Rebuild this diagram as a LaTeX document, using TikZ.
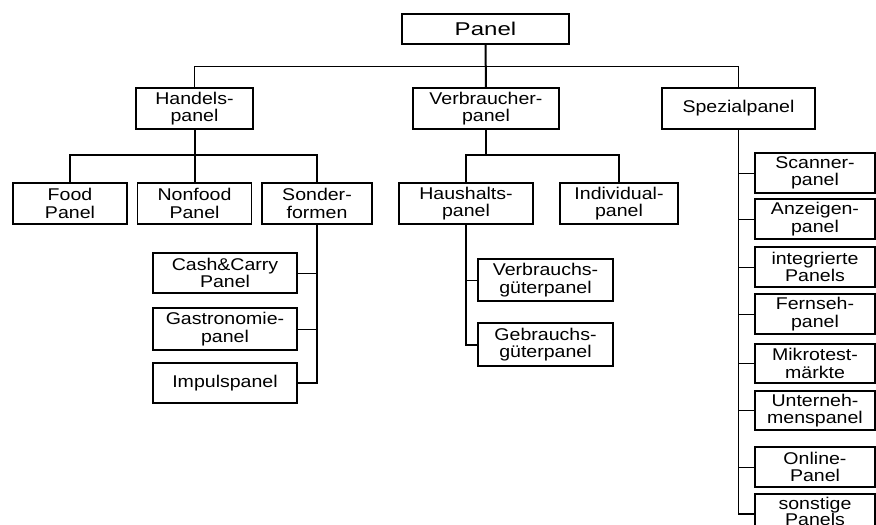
\documentclass[tikz,border=0pt]{standalone}
\usepackage{fontspec}
\setmainfont{Liberation Sans}
\newfontfamily\boxfont[FakeStretch=1.15]{Liberation Sans}
\newfontfamily\topfont[FakeStretch=1.3]{Liberation Sans}
\begin{document}
\begin{tikzpicture}[x=1pt,y=-1pt,
  box/.style={draw,line width=1.2pt,align=center,inner sep=0pt,
    font=\boxfont\fontsize{17}{17.5}\selectfont},
  boxtext/.style={align=center,inner sep=0pt,
    font=\boxfont\fontsize{17}{16}\selectfont},
  thin/.style={line width=1pt},
  thickc/.style={line width=2pt},
  midc/.style={line width=1.4pt}]
\fill[white] (0,0) rectangle (876,525);
\useasboundingbox (0,0) rectangle (876,525);
% level 0
\node[box,minimum width=167pt,minimum height=30pt,font=\topfont\fontsize{18.5}{20}\selectfont] (panel) at (485.5,29) {Panel};
% level 1
\node[box,minimum width=117pt,minimum height=41pt] (handels) at (194.5,108.5) {Handels-\\panel};
\node[box,minimum width=146pt,minimum height=41pt] (verbr) at (486,108.5) {Verbraucher-\\panel};
\node[box,minimum width=153pt,minimum height=41pt] (spezial) at (738.5,108.5) {Spezialpanel};
% level 2
\node[box,minimum width=114pt,minimum height=41pt] (food) at (70,203.5) {Food\\Panel};
\node[box,minimum width=114pt,minimum height=41pt] (nonfood) at (194.5,203.5) {Nonfood\\Panel};
\node[box,minimum width=110pt,minimum height=41pt] (sonder) at (317,203.5) {Sonder-\\formen};
\node[box,minimum width=134pt,minimum height=41pt] (haush) at (466,203.5) {Haushalts-\\panel};
\node[box,minimum width=118pt,minimum height=41pt] (indiv) at (619,203.5) {Individual-\\panel};
% Sonderformen children
\node[box,minimum width=144pt,minimum height=40pt] (cash) at (225,273) {Cash\&Carry\\Panel};
\node[box,minimum width=144pt,minimum height=42pt] (gastro) at (225,329) {Gastronomie-\\panel};
\node[box,minimum width=144pt,minimum height=40pt] (impuls) at (225,383) {Impulspanel};
% Haushalts children
\node[box,minimum width=135pt,minimum height=42pt] (verbrauchs) at (545.5,280) {Verbrauchs-\\güterpanel};
\node[box,minimum width=135pt,minimum height=43pt] (gebrauchs) at (545.5,344.5) {Gebrauchs-\\güterpanel};
% Spezial children
\node[box,minimum width=120pt,minimum height=40pt] (scanner) at (815,173) {Scanner-\\panel};
\node[box,minimum width=120pt,minimum height=40pt] (anzeigen) at (815,219) {Anzeigen-\\panel};
\node[box,minimum width=120pt,minimum height=40pt] (integ) at (815,267) {integrierte\\Panels};
\node[box,minimum width=120pt,minimum height=40pt] (fernseh) at (815,314) {Fernseh-\\panel};
\node[box,minimum width=120pt,minimum height=39pt] (mikro) at (815,363.5) {Mikrotest-\\märkte};
\node[box,minimum width=120pt,minimum height=39pt] (untern) at (815,410.5) {Unterneh-\\menspanel};
\node[box,minimum width=120pt,minimum height=40pt] (online) at (815,467) {Online-\\Panel};
\node[box,minimum width=120pt,minimum height=40pt] (sonst) at (815,514) {};
\node[boxtext] (sonsttxt) at (815,511.5) {sonstige\\Panels};
% buses
\coordinate (bus1) at (0,66);
\coordinate (bus2) at (0,155);
% level 0 -> 1
\draw[thin] (handels.north) |- (spezial.north |- bus1) -- (spezial.north);
\draw[thickc] (panel.south) -- (verbr.north);
% Handels -> children
\draw[thickc] (food.north) |- (sonder.north |- bus2) -- (sonder.north);
\draw[thickc] (handels.south) -- (nonfood.north);
% Verbraucher -> children
\draw[thickc] (haush.north) |- (indiv.north |- bus2) -- (indiv.north);
\draw[thickc] (verbr.south) -- (verbr.south |- bus2);
% Sonderformen -> children
\draw[midc] (sonder.south) |- (impuls.east);
\draw[thin] (cash.east) -- (cash.east -| sonder.south);
\draw[thin] (gastro.east) -- (gastro.east -| sonder.south);
% Haushalts -> children
\draw[thickc] (haush.south) |- (gebrauchs.west);
\draw[thin] (verbrauchs.west) -- (verbrauchs.west -| haush.south);
% Spezial -> children
\draw[midc] (spezial.south) |- (sonst.west);
\foreach \n in {scanner,anzeigen,integ,fernseh,mikro,untern,online}
  \draw[thin] (\n.west) -- (\n.west -| spezial.south);
\end{tikzpicture}
\end{document}
